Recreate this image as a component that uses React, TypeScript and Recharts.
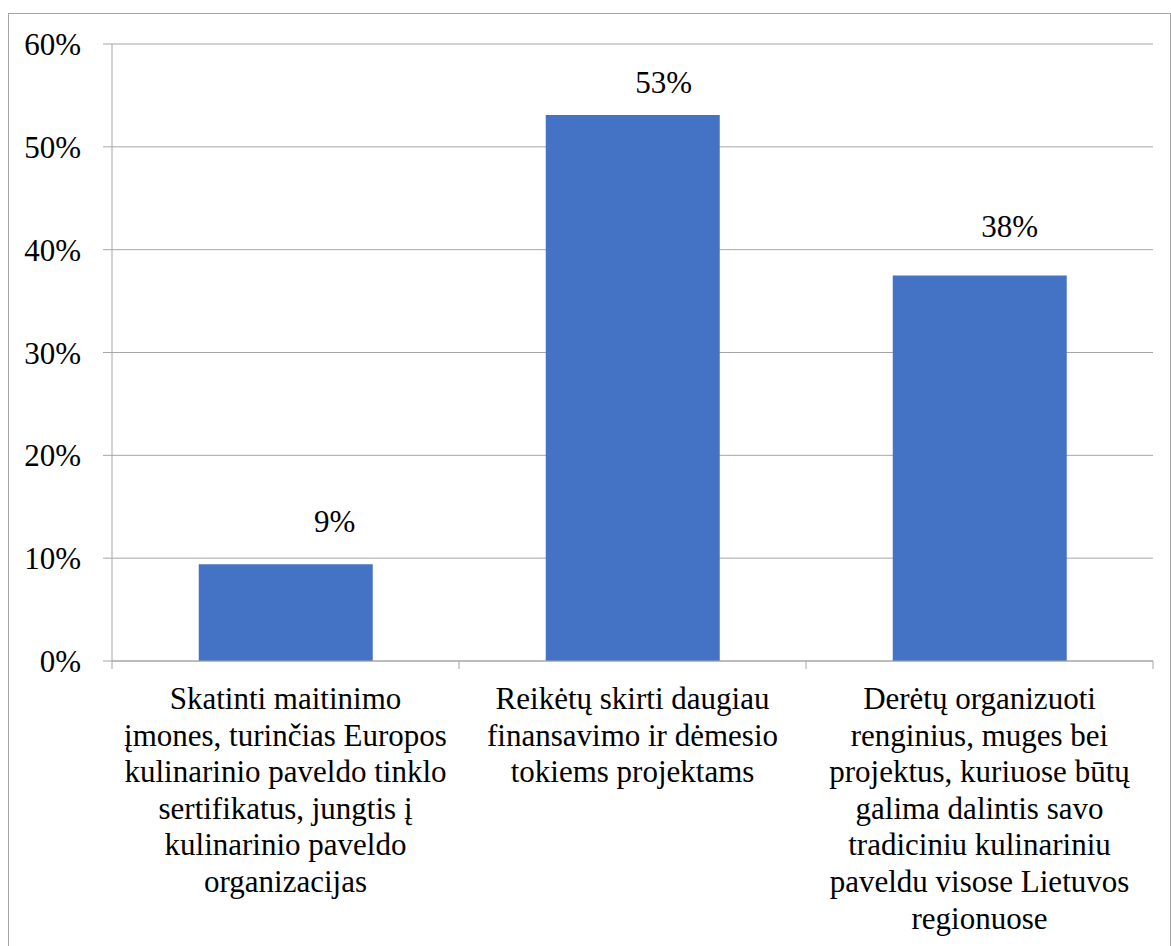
import { Bar, BarChart, CartesianGrid, LabelList, XAxis, YAxis } from "recharts";

const kategorijos = [
  "Skatinti maitinimo įmones, turinčias Europos kulinarinio paveldo tinklo sertifikatus, jungtis į kulinarinio paveldo organizacijas",
  "Reikėtų skirti daugiau finansavimo ir dėmesio tokiems projektams",
  "Derėtų organizuoti renginius, muges bei projektus, kuriuose būtų galima dalintis savo tradiciniu kulinariniu paveldu visose Lietuvos regionuose",
];

const kategorijuEilutes = [
  ["Skatinti maitinimo", "įmones, turinčias Europos", "kulinarinio paveldo tinklo", "sertifikatus, jungtis į", "kulinarinio paveldo", "organizacijas"],
  ["Reikėtų skirti daugiau", "finansavimo ir dėmesio", "tokiems projektams"],
  ["Derėtų organizuoti", "renginius, muges bei", "projektus, kuriuose būtų", "galima dalintis savo", "tradiciniu kulinariniu", "paveldu visose Lietuvos", "regionuose"],
];

const reiksmes = [0.094, 0.531, 0.375];

const yTicks = [0, 0.1, 0.2, 0.3, 0.4, 0.5, 0.6];

const data = kategorijos.map((k, i) => ({ kategorija: k, valor: reiksmes[i] }));

// labels were nudged by hand in the original
const labelDx = [49, 31, 30];
const labelDy = [32, 22, 38];

const FONT = "Liberation Serif";
const GRIS = "#a6a6a6";

const pct = (v: number) => `${Math.round(v * 100)}%`;

function KategorijaTick(props: any) {
  const { x, y, payload, index } = props;
  const half = payload?.offset ?? 173.5;
  const eilutes = kategorijuEilutes[index] ?? [];
  return (
    <g>
      <line x1={x - half} x2={x - half} y1={y - 8} y2={y} stroke={GRIS} />
      {index === kategorijos.length - 1 && (
        <line x1={x + half} x2={x + half} y1={y - 8} y2={y} stroke={GRIS} />
      )}
      <text textAnchor="middle" fontFamily={FONT} fontSize={31} fill="#000">
        {eilutes.map((l: string, i: number) => (
          <tspan key={i} x={x} y={y + 40 + i * 36.6}>
            {l}
          </tspan>
        ))}
      </text>
    </g>
  );
}

function EtiketeVirsuje(props: any) {
  const { x, y, width, value, index } = props;
  return (
    <text
      x={x + width / 2 + labelDx[index]}
      y={y - labelDy[index]}
      textAnchor="middle"
      fontFamily={FONT}
      fontSize={31}
      fill="#000"
    >
      {pct(value)}
    </text>
  );
}

export default function App() {
  return (
    <div
      style={{
        position: "absolute",
        left: 0,
        top: 0,
        width: 1171,
        height: 946,
        overflow: "hidden",
        background: "#fff",
      }}
    >
      <div
        style={{
          position: "absolute",
          left: 8,
          top: 13,
          width: 1161,
          height: 1000,
          border: `1px solid ${GRIS}`,
        }}
      />
      <div style={{ position: "absolute", left: 0, top: 0 }}>
        <BarChart
          width={1171}
          height={946}
          data={data}
          margin={{ top: 44, right: 18, bottom: 0, left: 0 }}
          barCategoryGap="25%"
        >
          <CartesianGrid vertical={false} stroke={GRIS} />
          <XAxis
            dataKey="kategorija"
            interval={0}
            height={285}
            tickLine={false}
            tickSize={8}
            tickMargin={0}
            axisLine={{ stroke: GRIS }}
            tick={<KategorijaTick />}
          />
          <YAxis
            width={112}
            domain={[0, 0.6]}
            ticks={yTicks}
            tickFormatter={pct}
            tickSize={9}
            tickMargin={22}
            axisLine={{ stroke: GRIS }}
            tickLine={{ stroke: GRIS }}
            tick={{ fontFamily: FONT, fontSize: 31, fill: "#000" }}
          />
          <Bar dataKey="valor" fill="#4472C4" isAnimationActive={false}>
            <LabelList dataKey="valor" content={<EtiketeVirsuje />} />
          </Bar>
        </BarChart>
      </div>
    </div>
  );
}
